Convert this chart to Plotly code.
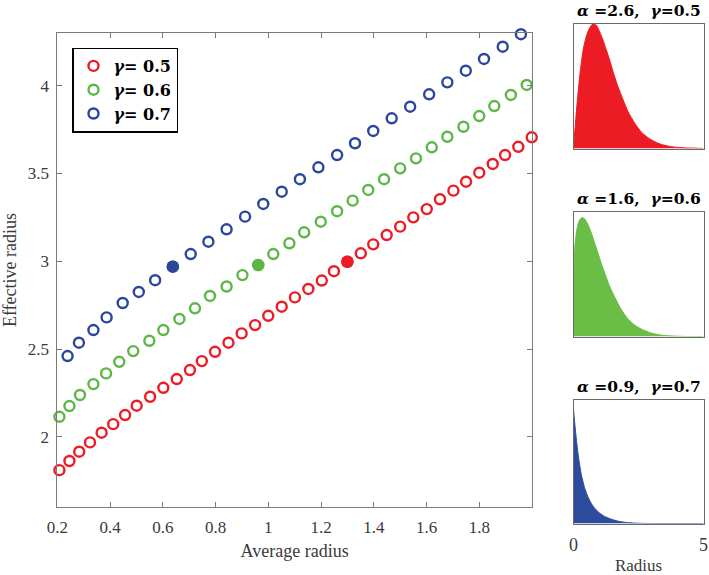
import plotly.graph_objects as go

# ---------------- data ----------------
red_x = [0.208, 0.246, 0.283, 0.324, 0.368, 0.412, 0.457, 0.501, 0.552, 0.602,
         0.653, 0.703, 0.748, 0.798, 0.849, 0.899, 0.950, 1.000, 1.051, 1.101,
         1.152, 1.203, 1.249, 1.300, 1.351, 1.398, 1.449, 1.500, 1.550, 1.601,
         1.651, 1.702, 1.750, 1.800, 1.851, 1.898, 1.948, 1.999]
red_y = [1.810, 1.862, 1.915, 1.968, 2.023, 2.072, 2.124, 2.177, 2.228, 2.279,
         2.329, 2.380, 2.431, 2.484, 2.536, 2.589, 2.636, 2.689, 2.741, 2.794,
         2.842, 2.890, 2.943, 2.997, 3.045, 3.096, 3.149, 3.197, 3.250, 3.297,
         3.353, 3.402, 3.453, 3.504, 3.554, 3.605, 3.652, 3.706]

green_x = [0.208, 0.246, 0.286, 0.337, 0.385, 0.435, 0.488, 0.549, 0.602, 0.663,
           0.722, 0.779, 0.842, 0.902, 0.962, 1.019, 1.080, 1.136, 1.199, 1.261,
           1.320, 1.379, 1.439, 1.500, 1.560, 1.620, 1.679, 1.740, 1.800, 1.857,
           1.920, 1.980]
green_y = [2.114, 2.175, 2.238, 2.300, 2.361, 2.427, 2.488, 2.547, 2.608, 2.671,
           2.732, 2.802, 2.856, 2.921, 2.978, 3.041, 3.102, 3.165, 3.225, 3.285,
           3.345, 3.406, 3.467, 3.529, 3.586, 3.649, 3.709, 3.766, 3.827, 3.884,
           3.947, 4.004]

blue_x = [0.239, 0.282, 0.337, 0.387, 0.448, 0.509, 0.571, 0.638, 0.706, 0.773,
          0.842, 0.912, 0.981, 1.051, 1.120, 1.190, 1.261, 1.329, 1.398, 1.468,
          1.538, 1.610, 1.679, 1.749, 1.818, 1.889, 1.958]
blue_y = [2.460, 2.536, 2.608, 2.680, 2.762, 2.825, 2.892, 2.969, 3.041, 3.111,
          3.182, 3.254, 3.326, 3.396, 3.467, 3.535, 3.605, 3.672, 3.742, 3.814,
          3.880, 3.951, 4.019, 4.085, 4.152, 4.222, 4.293]

# highlighted (filled) points
hl_red = (1.300, 2.997)
hl_green = (0.962, 2.978)
hl_blue = (0.638, 2.969)

series_names = ["<i>γ</i>= 0.5", "<i>γ</i>= 0.6", "<i>γ</i>= 0.7"]

x_tickvals = [0.2, 0.4, 0.6, 0.8, 1.0, 1.2, 1.4, 1.6, 1.8]
x_ticktext = ["0.2", "0.4", "0.6", "0.8", "1", "1.2", "1.4", "1.6", "1.8"]
y_tickvals = [2, 2.5, 3, 3.5, 4]
y_ticktext = ["2", "2.5", "3", "3.5", "4"]

# small distribution panels (relative density)
d1_x = [0, 0.10, 0.23, 0.36, 0.49, 0.62, 0.75, 0.88, 1.00, 1.13, 1.26, 1.39, 1.52,
        1.71, 1.91, 2.10, 2.36, 2.62, 2.87, 3.13, 3.39, 3.65, 3.90, 4.29, 4.68, 5.0]
d1_y = [0, 0.268, 0.563, 0.777, 0.898, 0.965, 1.0, 0.987, 0.938, 0.871, 0.791, 0.710,
        0.617, 0.496, 0.389, 0.295, 0.201, 0.129, 0.086, 0.054, 0.032, 0.019, 0.011,
        0.005, 0.003, 0.0]
d2_x = [0, 0.013, 0.064, 0.142, 0.232, 0.322, 0.425, 0.554, 0.683, 0.812, 0.941, 1.07,
        1.20, 1.39, 1.585, 1.843, 2.10, 2.358, 2.616, 3.003, 3.389, 3.905, 4.42, 5.0]
d2_y = [0, 0.509, 0.751, 0.871, 0.933, 0.952, 0.944, 0.898, 0.831, 0.751, 0.670, 0.584,
        0.509, 0.402, 0.316, 0.214, 0.139, 0.091, 0.059, 0.027, 0.011, 0.003, 0.0, 0.0]
d3_x = [0, 0.039, 0.103, 0.168, 0.232, 0.296, 0.425, 0.554, 0.683, 0.812, 1.005, 1.198,
        1.456, 1.714, 2.036, 2.358, 2.874, 3.518, 5.0]
d3_y = [0.925, 0.830, 0.695, 0.574, 0.480, 0.399, 0.291, 0.216, 0.162, 0.124, 0.084,
        0.057, 0.035, 0.019, 0.008, 0.003, 0.0, 0.0, 0.0]

panel_titles = ["<i>α</i> =2.6,&nbsp;&nbsp;<i>γ</i>=0.5",
                "<i>α</i> =1.6,&nbsp;&nbsp;<i>γ</i>=0.6",
                "<i>α</i> =0.9,&nbsp;&nbsp;<i>γ</i>=0.7"]
panel_tickvals = [0, 5]
panel_ticktext = ["0", "5"]

# ---------------- styling ----------------
RED = "#ED1C24"
GREEN = "#5DB646"
BLUE = "#2A479C"
FILL_RED = "#ED1C24"
FILL_GREEN = "#6ABD45"
FILL_BLUE = "#2E4C9E"
SERIF = "Liberation Serif"
MATH = "DejaVu Serif"
AX = "#7a7a7a"
TXT = "#3a3a3a"

W, H = 709, 575

def px_x(a, b):
    return [a / W, b / W]

def px_y(top, bottom):
    return [(H - bottom) / H, (H - top) / H]

fig = go.Figure()

for xs, ys, c, nm in [(red_x, red_y, RED, series_names[0]),
                      (green_x, green_y, GREEN, series_names[1]),
                      (blue_x, blue_y, BLUE, series_names[2])]:
    fig.add_trace(go.Scatter(
        x=xs, y=ys, mode="markers", name=nm,
        marker=dict(symbol="circle-open", size=10, color=c, line=dict(width=2.4, color=c)),
        xaxis="x", yaxis="y", cliponaxis=False))

for (hx, hy), c in [(hl_red, RED), (hl_green, GREEN), (hl_blue, BLUE)]:
    fig.add_trace(go.Scatter(
        x=[hx], y=[hy], mode="markers", showlegend=False,
        marker=dict(symbol="circle", size=12.5, color=c, line=dict(width=0)),
        xaxis="x", yaxis="y"))

for i, (dx, dy, fc) in enumerate([(d1_x, d1_y, FILL_RED),
                                  (d2_x, d2_y, FILL_GREEN),
                                  (d3_x, d3_y, FILL_BLUE)]):
    k = str(i + 2)
    fig.add_trace(go.Scatter(
        x=dx, y=dy, mode="lines", fill="tozeroy", fillcolor=fc,
        line=dict(color=fc, width=1, shape="spline", smoothing=0.6),
        showlegend=False, xaxis="x" + k, yaxis="y" + k))

main_axis = dict(showline=True, linecolor=AX, linewidth=1, mirror="ticks",
                 ticks="inside", ticklen=5, tickcolor=AX, showgrid=False,
                 zeroline=False, automargin=False,
                 tickfont=dict(family=SERIF, size=17, color=TXT))

layout = dict(
    width=W, height=H,
    margin=dict(l=0, r=0, t=0, b=0, autoexpand=False),
    paper_bgcolor="white", plot_bgcolor="white",
    showlegend=True,
    legend=dict(x=72 / W, y=(H - 47.5) / H, xanchor="left", yanchor="top",
                bordercolor="black", borderwidth=1.5, bgcolor="white",
                font=dict(family=MATH, size=16, color="black", weight="bold"),
                tracegroupgap=0, itemwidth=30),
    xaxis=dict(main_axis, domain=px_x(57.3, 532), range=[0.2, 2.0],
               tickvals=x_tickvals, ticktext=x_ticktext, ticklabelstandoff=5,
               title=dict(text="Average radius", font=dict(family=SERIF, size=18, color=TXT),
                          standoff=7)),
    yaxis=dict(main_axis, domain=px_y(33, 507), range=[1.6, 4.3],
               tickvals=y_tickvals, ticktext=y_ticktext, ticklabelstandoff=4,
               title=dict(text="Effective radius", font=dict(family=SERIF, size=18, color=TXT),
                          standoff=8)),
)

panel_px = [(23.7, 148.5), (211.7, 336.5), (399.7, 523.5)]
title_y = [10.5, 198, 386]
annotations = []
for i, (top, bot) in enumerate(panel_px):
    k = str(i + 2)
    xa = dict(domain=px_x(573.5, 703.5), range=[0, 5], showline=True, linecolor="#6a6a6a",
              linewidth=1, mirror=True, showgrid=False, zeroline=False, anchor="y" + k,
              fixedrange=True, automargin=False)
    if i == 2:
        xa.update(tickvals=panel_tickvals, ticktext=panel_ticktext, ticks="",
                  ticklabelstandoff=5, ticklabeloverflow="allow",
                  tickfont=dict(family=SERIF, size=18, color=TXT),
                  title=dict(text="Radius", font=dict(family=SERIF, size=17, color=TXT),
                             standoff=11))
    else:
        xa.update(showticklabels=False, ticks="")
    ya = dict(domain=px_y(top, bot), range=[0, 1.0], showline=True, linecolor="#6a6a6a",
              linewidth=1, mirror=True, showgrid=False, zeroline=False, automargin=False,
              showticklabels=False, ticks="", anchor="x" + k, fixedrange=True)
    layout["xaxis" + k] = xa
    layout["yaxis" + k] = ya
    annotations.append(dict(
        text="<b>" + panel_titles[i] + "</b>", xref="paper", yref="paper",
        x=638.5 / W, y=(H - title_y[i]) / H, xanchor="center", yanchor="middle",
        showarrow=False, font=dict(family=MATH, size=15.5, color="black")))

layout["annotations"] = annotations
fig.update_layout(**layout)

fig.write_html("out.html", config={"displayModeBar": False},
               post_script="document.body.style.margin='0px';document.body.style.overflow='hidden';")
